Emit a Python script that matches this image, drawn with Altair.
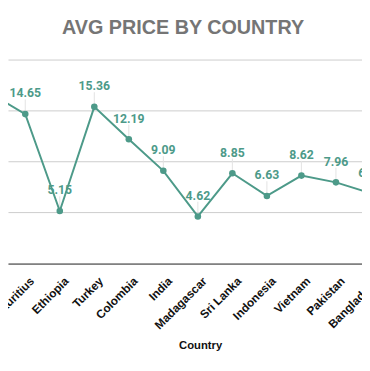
import altair as alt
import pandas as pd

# Data (first point lies just off the left edge; its name is not visible)
countries = ["", "Mauritius", "Ethiopia", "Turkey", "Colombia", "India", "Madagascar",
             "Sri Lanka", "Indonesia", "Vietnam", "Pakistan", "Bangladesh"]
prices = [16.66, 14.65, 5.15, 15.36, 12.19, 9.09, 4.62, 8.85, 6.63, 8.62, 7.96, 6.89]
price_labels = ["16.66", "14.65", "5.15", "15.36", "12.19", "9.09", "4.62", "8.85",
                "6.63", "8.62", "7.96", "6.89"]
y_ticks = [0, 5, 10, 15, 20]

df = pd.DataFrame({
    "idx": list(range(len(countries))),
    "Country": countries,
    "Price": prices,
    "Label": price_labels,
})

TEAL = "#4d9a89"
label_array = "[" + ",".join("'" + c + "'" for c in countries) + "]"

x_enc = alt.X(
    "idx:Q",
    scale=alt.Scale(domain=[0.5, 11.5], range=[0, 388.3], nice=False, zero=False),
    axis=alt.Axis(
        values=list(range(1, len(countries))),
        tickCount=40,
        labelExpr=label_array + "[datum.value]",
        labelAngle=-45,
        labelFont="Liberation Sans",
        labelFontWeight="bold",
        labelFontSize=12,
        labelColor="#111111",
        labelPadding=12,
        labelOffset=3,
        labelFlush=False,
        labelOverlap=False,
        labelBound=False,
        ticks=False,
        grid=False,
        domainColor="#333333",
        title="Country",
        titleFont="Liberation Sans",
        titleFontWeight="bold",
        titleFontSize=11.5,
        titleColor="#111111",
        titleX=196.5,
        titleY=87,
        titleBaseline="alphabetic",
    ),
)
y_enc = alt.Y(
    "Price:Q",
    scale=alt.Scale(domain=[0, 20], nice=False),
    axis=alt.Axis(
        values=y_ticks,
        labels=False,
        ticks=False,
        domain=False,
        grid=True,
        gridColor="#cccccc",
        title=None,
    ),
)

base = alt.Chart(df)

line = base.mark_line(color=TEAL, strokeWidth=2, clip=True).encode(x=x_enc, y=y_enc)
leaders = base.mark_rule(color="#e2e2e2", strokeWidth=1, y2Offset=-15, clip=True).encode(
    x="idx:Q", y="Price:Q", y2="Price:Q"
)
points = base.mark_point(filled=True, size=45, color=TEAL, opacity=1, clip=True).encode(
    x="idx:Q", y="Price:Q"
)
labels = base.mark_text(
    font="Roboto", fontWeight="bold", fontSize=12.5, color=TEAL,
    baseline="alphabetic", dy=-17, clip=True
).encode(x="idx:Q", y="Price:Q", text="Label:N")

chart = alt.layer(leaders, line, points, labels).properties(
    width=362,
    height=208.6,
    title=alt.TitleParams(
        "AVG PRICE BY COUNTRY",
        font="Liberation Sans",
        fontSize=20.2,
        fontWeight="bold",
        color="#757575",
        anchor="middle",
        dx=-2,
        offset=6.3,
        baseline="alphabetic",
    ),
    autosize=alt.AutoSizeParams(type="none"),
    padding={"left": 0, "top": 48.7, "right": 0, "bottom": 97.7},
).configure_view(stroke=None)

chart.save("out.html", embed_options={"renderer": "svg", "actions": False})
